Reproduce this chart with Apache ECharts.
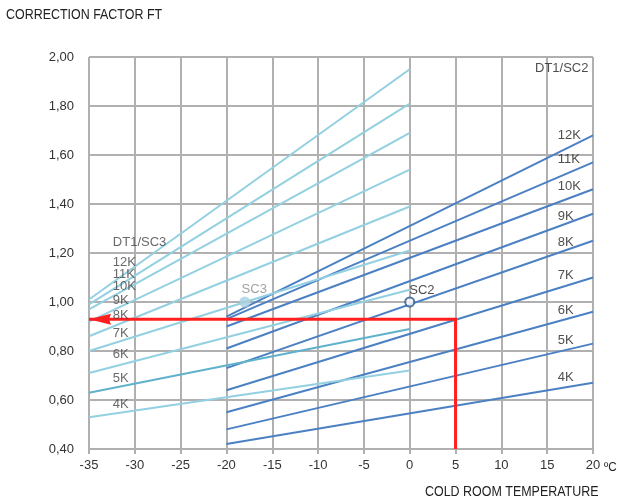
<!DOCTYPE html>
<html>
<head>
<meta charset="utf-8">
<script src="https://cdn.jsdelivr.net/npm/echarts@6/dist/echarts.min.js"></script>
<style>
  html, body { margin: 0; padding: 0; background: #fff; }
  #main { width: 618px; height: 501px; }
</style>
</head>
<body>
<div id="main"></div>
<script>
// curves: DT1 values, from 4K to 12K
const kLabels = ['4K', '5K', '6K', '7K', '8K', '9K', '10K', '11K', '12K'];

// SC3 family, drawn from -35 to 0 °C
const sc3Range = [-35, 0];
const sc3From = [0.53, 0.63, 0.71, 0.80, 0.86, 0.92, 0.97, 0.99, 1.01];
const sc3To = [0.72, 0.89, 1.05, 1.21, 1.39, 1.54, 1.69, 1.81, 1.95];

// SC2 family, drawn from -20 to 20 °C
const sc2Range = [-20, 20];
const sc2From = [0.42, 0.48, 0.55, 0.64, 0.73, 0.81, 0.90, 0.93, 0.94];
const sc2To = [0.67, 0.83, 0.96, 1.10, 1.25, 1.36, 1.46, 1.57, 1.68];

// where the K names sit (y value)
const sc3NameY = [0.58, 0.69, 0.784, 0.872, 0.944, 1.008, 1.062, 1.113, 1.16];
const sc2NameY = [0.691, 0.845, 0.967, 1.107, 1.242, 1.351, 1.471, 1.58, 1.679];

const pointSC3 = [-18, 1.00];
const pointSC2 = [0, 1.00];

// reading example: 5 °C -> 0,93
const readTemp = 5;
const readFactor = 0.93;

const xMin = -35, xMax = 20, xStep = 5;
const yMin = 0.4, yMax = 2.0, yStep = 0.2;

const FONT = '"Liberation Sans Narrow", "Arial Narrow", "Liberation Sans", sans-serif';
const LIGHT = '#93d0e1';
const LIGHT_5K = '#5fb1cc';
const DARK = '#4b80c3';
const GRID = '#b0b0b0';
const RED = '#ff1f1f';

var chartDom = document.getElementById('main');
var myChart = echarts.init(chartDom);
var option;

var series = [];

kLabels.forEach(function (k, i) {
  series.push({
    type: 'line',
    name: 'SC3 ' + k,
    data: [[sc3Range[0], sc3From[i]], [sc3Range[1], sc3To[i]]],
    showSymbol: false,
    silent: true,
    z: 3,
    lineStyle: { color: k === '5K' ? LIGHT_5K : LIGHT, width: 2 }
  });
});

kLabels.forEach(function (k, i) {
  series.push({
    type: 'line',
    name: 'SC2 ' + k,
    data: [[sc2Range[0], sc2From[i]], [sc2Range[1], sc2To[i]]],
    showSymbol: false,
    silent: true,
    z: 2,
    lineStyle: { color: DARK, width: 2 }
  });
});

// red reading path, arrow head at the left end
series.push({
  type: 'line',
  name: 'reading',
  data: [[readTemp, yMin], [readTemp, readFactor], [xMin, readFactor]],
  showSymbol: false,
  silent: true,
  z: 5,
  lineStyle: { color: RED, width: 3, join: 'miter' },
  markPoint: {
    silent: true,
    symbol: 'path://M0,5 L22,0 L20,5 L22,10 Z',
    symbolSize: [22, 11],
    symbolOffset: ['50%', 0],
    itemStyle: { color: RED },
    label: { show: false },
    data: [{ coord: [xMin, readFactor] }]
  }
});

// names of the curves
function nameSeries(list, color) {
  return {
    type: 'scatter',
    symbolSize: 0,
    silent: true,
    z: 6,
    label: {
      show: true,
      position: 'right',
      distance: 0,
      formatter: '{b}',
      color: color,
      fontSize: 13,
      fontFamily: FONT
    },
    data: list
  };
}

series.push(nameSeries(kLabels.map(function (k, i) {
  return { name: k, value: [-32.4, sc3NameY[i]] };
}).concat([{ name: 'DT1/SC3', value: [-32.4, 1.242] }]), '#444'));

series.push(nameSeries(kLabels.map(function (k, i) {
  return { name: k, value: [16.15, sc2NameY[i]] };
}).concat([{ name: 'DT1/SC2', value: [13.67, 1.954] }, { name: 'SC2', value: [-0.05, 1.049] }]), '#222'));

series.push(nameSeries([{ name: 'SC3', value: [-18.35, 1.053] }], '#8a8a8a'));

// SC3 / SC2 reference points
series.push({
  type: 'scatter',
  silent: true,
  z: 7,
  symbolSize: 11,
  itemStyle: { color: '#a9d0e0' },
  data: [pointSC3]
});
series.push({
  type: 'scatter',
  silent: true,
  z: 7,
  symbolSize: 9,
  itemStyle: { color: '#ffffff', borderColor: '#2c5a8c', borderWidth: 2 },
  data: [pointSC2]
});

option = {
  animation: false,
  backgroundColor: '#ffffff',
  grid: { left: 89, right: 25, top: 57, bottom: 52 },
  xAxis: {
    type: 'value',
    min: xMin,
    max: xMax,
    interval: xStep,
    axisLine: { show: true, lineStyle: { color: GRID, width: 2 } },
    axisTick: { show: true, length: 5, lineStyle: { color: GRID, width: 2 } },
    axisLabel: { color: '#333', fontSize: 13, fontFamily: FONT, margin: 10 },
    splitLine: { show: true, lineStyle: { color: GRID, width: 2 } }
  },
  yAxis: {
    type: 'value',
    min: yMin,
    max: yMax,
    interval: yStep,
    axisLine: { show: true, lineStyle: { color: GRID, width: 2 } },
    axisTick: { show: true, length: 5, lineStyle: { color: GRID, width: 2 } },
    axisLabel: {
      color: '#333',
      fontSize: 13,
      fontFamily: FONT,
      margin: 15,
      formatter: function (v) { return v.toFixed(2).replace('.', ','); }
    },
    splitLine: { show: true, lineStyle: { color: GRID, width: 2 } }
  },
  graphic: [
    { type: 'text', x: 6, y: 7, scaleX: 0.83, style: { text: 'CORRECTION FACTOR FT', fill: '#222', font: '15px ' + FONT } },
    { type: 'text', x: 604, y: 461, scaleX: 0.9, style: { text: 'ºC', fill: '#222', font: '13px ' + FONT } },
    { type: 'text', x: 425, y: 485, scaleX: 0.89, style: { text: 'COLD ROOM TEMPERATURE', fill: '#222', font: '14px ' + FONT } }
  ],
  series: series
};

option && myChart.setOption(option);
</script>
</body>
</html>
